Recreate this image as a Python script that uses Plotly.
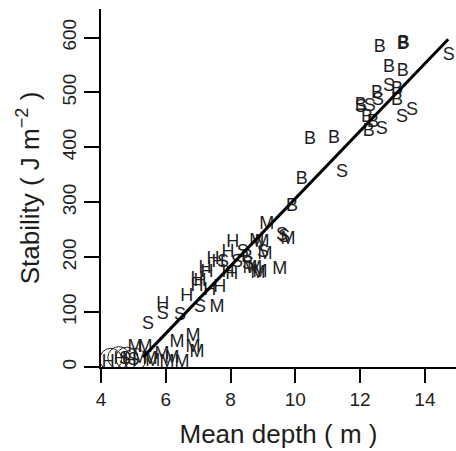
import plotly.graph_objects as go

# Data (Mean depth in m, Stability in J m^-2)
b_x = [12.61, 13.32, 13.35, 12.89, 13.32, 12.52, 13.14, 13.14, 12.02, 12.21, 12.40, 12.27, 10.45, 11.19, 10.20, 9.90, 8.51]
b_y = [581, 587, 589, 545, 538, 499, 505, 485, 477, 454, 446, 428, 414, 416, 341, 292, 199]

s_x = [12.89, 12.55, 13.60, 13.29, 12.02, 12.30, 12.67, 14.74, 11.44, 9.59, 9.65, 7.77, 8.38, 8.54, 9.00, 8.20, 7.06, 5.91, 6.44, 5.45, 4.74, 5.00]
s_y = [510, 485, 468, 454, 472, 474, 432, 567, 355, 239, 235, 190, 208, 186, 208, 191, 108, 95, 93, 77, 13, 12]

h_x = [8.07, 7.46, 7.61, 7.92, 8.04, 7.27, 6.96, 6.96, 7.36, 7.67, 6.65, 5.91, 7.21, 7.06, 7.92, 4.22, 4.59, 4.90]
h_y = [226, 195, 191, 208, 168, 173, 159, 146, 140, 144, 128, 113, 180, 155, 173, 9, 13, 10]

m_x = [9.12, 8.97, 9.77, 8.81, 9.06, 8.75, 8.91, 9.52, 8.60, 8.85, 7.58, 6.84, 6.35, 6.84, 5.05, 5.36, 6.96, 5.88, 6.19, 6.50, 6.04, 5.51, 5.20, 5.60]
m_y = [259, 226, 233, 228, 204, 180, 173, 177, 180, 171, 109, 56, 44, 36, 35, 35, 27, 22, 16, 9, 9, 13, 16, 10]

c_x = [4.30, 4.55, 4.80, 5.05]
c_y = [14, 17, 16, 14]

fit_x = [5.30, 14.72]
fit_y = [18, 597]

x_ticks = [4, 6, 8, 10, 12, 14]
y_ticks = [0, 100, 200, 300, 400, 500, 600]

FONT = "Liberation Sans, Arial, Helvetica, sans-serif"
TXT = "#1e1e1e"

fig = go.Figure()

fig.add_trace(go.Scatter(x=c_x, y=c_y, mode="markers",
                         marker=dict(symbol="circle-open", size=22, color="#222",
                                     line=dict(width=1, color="#222")),
                         showlegend=False, hoverinfo="skip"))

for gx, gy, lab in [(b_x, b_y, "B"), (s_x, s_y, "S"), (h_x, h_y, "H"), (m_x, m_y, "M")]:
    fig.add_trace(go.Scatter(x=gx, y=gy, mode="text", text=[lab] * len(gx),
                             textposition="middle center",
                             textfont=dict(family=FONT, size=18, color=TXT),
                             showlegend=False, hoverinfo="skip"))

fig.add_trace(go.Scatter(x=fit_x, y=fit_y, mode="lines",
                         line=dict(color="black", width=3),
                         showlegend=False, hoverinfo="skip"))

fig.update_layout(
    width=456, height=451,
    margin=dict(l=101, r=0, t=9, b=84),
    plot_bgcolor="white", paper_bgcolor="white",
    font=dict(family=FONT, color=TXT),
)

fig.update_xaxes(range=[4, 14.96], tickvals=x_ticks, ticktext=[str(t) for t in x_ticks],
                 ticks="outside", ticklen=14, tickwidth=2, tickcolor="black",
                 showline=True, linewidth=2, linecolor="black",
                 showgrid=False, zeroline=False,
                 tickfont=dict(size=19, family=FONT, color=TXT),
                 title=dict(text="Mean depth ( m )", font=dict(size=26, family=FONT, color=TXT), standoff=16))

fig.update_yaxes(range=[0, 652], tickvals=y_ticks, ticktext=[str(t) for t in y_ticks],
                 tickangle=-90,
                 ticks="outside", ticklen=15, tickwidth=2, tickcolor="black",
                 showline=True, linewidth=2, linecolor="black",
                 showgrid=False, zeroline=False,
                 tickfont=dict(size=19, family=FONT, color=TXT),
                 title=dict(text="Stability ( J m<sup>−2</sup> )", font=dict(size=26, family=FONT, color=TXT), standoff=12))

fig.write_html("out.html")
